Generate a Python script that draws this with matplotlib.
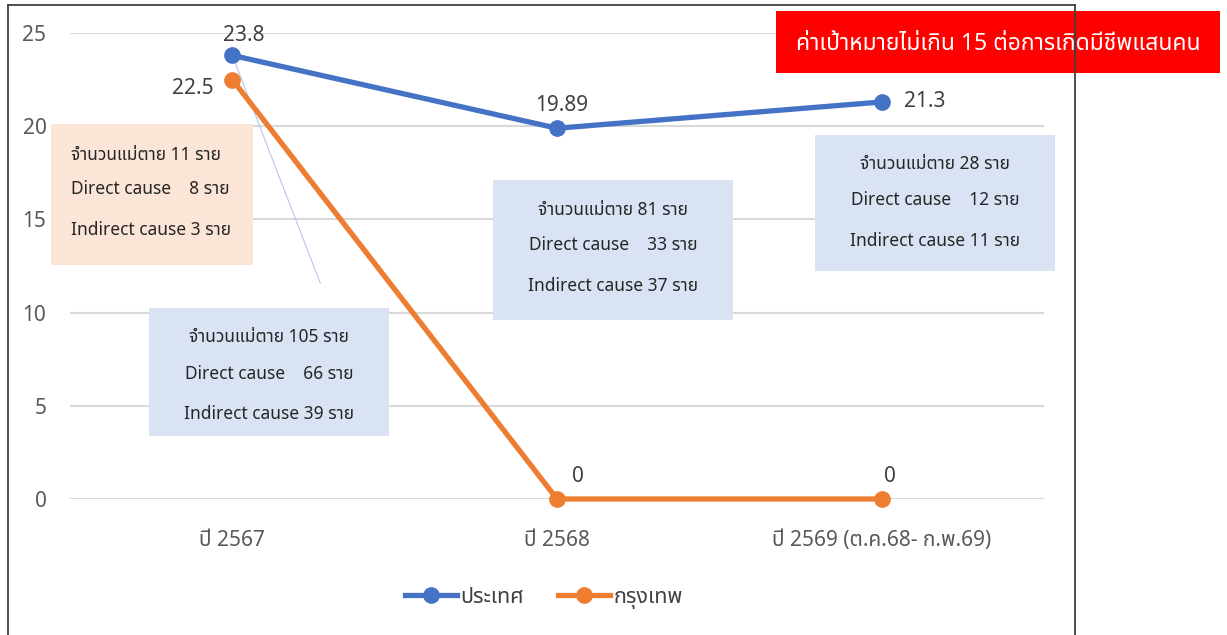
import matplotlib
matplotlib.use('Agg')
import matplotlib.pyplot as plt
from matplotlib import font_manager
from matplotlib.lines import Line2D
from matplotlib.patches import Rectangle

# ---------------- data ----------------
categories = ['ปี 2567', 'ปี 2568', 'ปี 2569 (ต.ค.68- ก.พ.69)']
country = [23.8, 19.89, 21.3]
bangkok = [22.5, 0, 0]
country_labels = ['23.8', '19.89', '21.3']
bangkok_labels = ['22.5', '0', '0']
series_names = ['ประเทศ', 'กรุงเทพ']
target_text = 'ค่าเป้าหมายไม่เกิน 15 ต่อการเกิดมีชีพแสนคน'
box_bkk = ['จำนวนแม่ตาย 11 ราย', 'Direct cause    8 ราย', 'Indirect cause 3 ราย']
box_2567 = ['จำนวนแม่ตาย 105 ราย', 'Direct cause    66 ราย', 'Indirect cause 39 ราย']
box_2568 = ['จำนวนแม่ตาย 81 ราย', 'Direct cause    33 ราย', 'Indirect cause 37 ราย']
box_2569 = ['จำนวนแม่ตาย 28 ราย', 'Direct cause    12 ราย', 'Indirect cause 11 ราย']

# ---------------- fonts ----------------
def thai_fonts():
    found = []
    try:
        from fontTools.ttLib import TTFont
    except Exception:
        return found
    for f in font_manager.fontManager.ttflist:
        try:
            tt = TTFont(f.fname, fontNumber=0, lazy=True)
            cmap = tt.getBestCmap()
            if cmap and 0x0E01 in cmap and 0x0E32 in cmap and 0x0E48 in cmap:
                if f.name not in found:
                    found.append(f.name)
        except Exception:
            pass
    return found

tf = thai_fonts()
pref = ['Leelawadee UI', 'Leelawadee', 'Tahoma', 'Noto Sans Thai', 'Noto Sans Thai UI',
        'Sarabun', 'Garuda', 'Loma', 'Umpush', 'Waree']
chosen = [p for p in pref if p in tf] + [t for t in tf if t not in pref]
plt.rcParams['font.family'] = chosen[:1] + ['DejaVu Sans']

W, H = 1227, 635
fig = plt.figure(figsize=(W / 100, H / 100), dpi=100)

def fx(px):
    return px / W

def fy(py):
    return 1 - py / H

# axes placement: plot area x 70..1044, y(0)=499, y(25)=33
ax = fig.add_axes([fx(70), fy(499), fx(1044) - fx(70), fy(33) - fy(499)])
ax.set_xlim(-0.5, 2.5)
ax.set_ylim(0, 25)
ax.set_yticks([0, 5, 10, 15, 20, 25])
ax.set_xticks(range(len(categories)))
ax.set_xticklabels(categories)
for s in ax.spines.values():
    s.set_visible(False)
ax.tick_params(axis='both', length=0, colors='#595959', labelsize=15)
ax.tick_params(axis='y', pad=17)
ax.tick_params(axis='x', pad=22)
ax.yaxis.grid(True, color='#d9d9d9', linewidth=1.5)
ax.set_axisbelow(True)

x = list(range(len(categories)))
blue = '#4472C4'
orange = '#ED7D31'

# leader line from first point of country series down to label box
ax.annotate('', xy=(x[0], country[0]), xytext=(88, -228), textcoords='offset pixels',
            arrowprops=dict(arrowstyle='-', color='#B4C7E7', lw=0.8, shrinkA=0, shrinkB=0))

ax.plot(x, country, color=blue, lw=3.8, marker='o', ms=11, zorder=5, clip_on=False)
ax.plot(x, bangkok, color=orange, lw=3.8, marker='o', ms=11, zorder=5, clip_on=False)

# data labels (offset in pixels)
lab_kw = dict(textcoords='offset pixels', fontsize=15, color='#404040', va='center')
country_off = [(11, 20, 'center'), (5, 23, 'center'), (22, 0, 'left')]
bangkok_off = [(-19, -9, 'right'), (21, 23, 'center'), (8, 23, 'center')]
for i in x:
    dx, dy, ha = country_off[i]
    ax.annotate(country_labels[i], (x[i], country[i]), xytext=(dx, dy), ha=ha, **lab_kw)
    dx, dy, ha = bangkok_off[i]
    ax.annotate(bangkok_labels[i], (x[i], bangkok[i]), xytext=(dx, dy), ha=ha, **lab_kw)

# ---------------- text boxes (figure pixel coords) ----------------
def box(x0, y0, x1, y1, color, lines, ys, tx, ha):
    fig.patches.append(Rectangle((fx(x0), fy(y1)), fx(x1) - fx(x0), fy(y0) - fy(y1),
                                 transform=fig.transFigure, facecolor=color,
                                 edgecolor='none', zorder=3))
    for ln, yy in zip(lines, ys):
        fig.text(fx(tx), fy(yy), ln, ha=ha, va='center', fontsize=12.5,
                 color='#262626', zorder=4)

box(51, 124, 253, 265, '#FBE5D6', box_bkk, [155, 189, 230], 71, 'left')
box(149, 308, 389, 436, '#DAE3F3', box_2567, [337, 374, 414], 269, 'center')
box(493, 180, 733, 320, '#DAE3F3', box_2568, [210, 245, 286], 613, 'center')
box(815, 135, 1055, 271, '#DAE3F3', box_2569, [164, 200, 241], 935, 'center')

# red target box
fig.patches.append(Rectangle((fx(776), fy(73)), fx(1220) - fx(776), fy(11) - fy(73),
                             transform=fig.transFigure, facecolor='#FF0000',
                             edgecolor='none', zorder=3))
fig.text(fx(998), fy(44), target_text, ha='center', va='center', fontsize=16.5,
         color='white', fontweight='bold', zorder=4)

# outer chart frame (left, top, right)
frame_kw = dict(color='#404040', lw=1.3, transform=fig.transFigure, zorder=6)
fig.add_artist(Line2D([fx(8), fx(8)], [fy(5), 0], **frame_kw))
fig.add_artist(Line2D([fx(8), fx(1075)], [fy(5), fy(5)], **frame_kw))
fig.add_artist(Line2D([fx(1075), fx(1075)], [fy(5), 0], **frame_kw))

# legend
handles = [Line2D([], [], color=blue, lw=3.8, marker='o', ms=11),
           Line2D([], [], color=orange, lw=3.8, marker='o', ms=11)]
fig.legend(handles, series_names, loc='center', bbox_to_anchor=(fx(544), fy(598)),
           ncol=2, frameon=False, fontsize=15.5, labelcolor='#404040',
           handlelength=2.4, handletextpad=0.15, columnspacing=1.6)

fig.savefig('out.png', dpi=100)
